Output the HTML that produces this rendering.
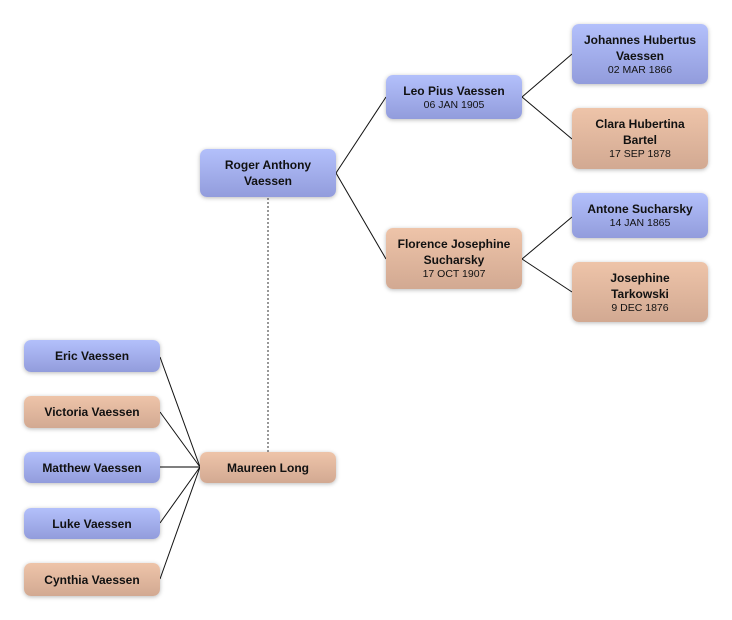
<!DOCTYPE html>
<html>
<head>
<meta charset="utf-8">
<style>
html,body{margin:0;padding:0;background:#fff;}
body{width:732px;height:620px;position:relative;overflow:hidden;font-family:"Liberation Sans","DejaVu Sans",sans-serif;}
.b{position:absolute;border-radius:7px;display:flex;flex-direction:column;justify-content:center;align-items:center;text-align:center;color:#111;box-shadow:0 1px 4px rgba(0,0,0,0.28);box-sizing:border-box;}
.m{background:linear-gradient(#b3c0fb,#929cdc);}
.f{background:linear-gradient(#eec4a9,#d2a992);}
.n{font-weight:bold;font-size:12px;line-height:16px;}
.d{font-size:10.5px;line-height:13px;}
svg{position:absolute;left:0;top:0;}
</style>
</head>
<body>
<svg width="732" height="620">
<g stroke="#111" stroke-width="1" fill="none">
<line x1="336" y1="173" x2="386" y2="97"/>
<line x1="336" y1="173" x2="386" y2="259"/>
<line x1="522" y1="97" x2="572" y2="54"/>
<line x1="522" y1="97" x2="572" y2="139"/>
<line x1="522" y1="259" x2="572" y2="217"/>
<line x1="522" y1="259" x2="572" y2="292"/>
<line x1="160" y1="357" x2="200" y2="467"/>
<line x1="160" y1="412" x2="200" y2="467"/>
<line x1="160" y1="467" x2="200" y2="467" stroke="#555" stroke-width="1.5"/>
<line x1="160" y1="523" x2="200" y2="467"/>
<line x1="160" y1="579" x2="200" y2="467"/>
</g>
<line x1="268" y1="198" x2="268" y2="452" stroke="#777" stroke-width="1.5" stroke-dasharray="2,2"/>
</svg>

<div class="b m" style="left:200px;top:149px;width:136px;height:48px;"><div class="n">Roger Anthony<br>Vaessen</div></div>

<div class="b m" style="left:386px;top:75px;width:136px;height:44px;"><div class="n">Leo Pius Vaessen</div><div class="d">06 JAN 1905</div></div>
<div class="b f" style="left:386px;top:228px;width:136px;height:61px;"><div class="n">Florence Josephine<br>Sucharsky</div><div class="d">17 OCT 1907</div></div>

<div class="b m" style="left:572px;top:24px;width:136px;height:60px;"><div class="n">Johannes Hubertus<br>Vaessen</div><div class="d">02 MAR 1866</div></div>
<div class="b f" style="left:572px;top:108px;width:136px;height:61px;"><div class="n">Clara Hubertina<br>Bartel</div><div class="d">17 SEP 1878</div></div>
<div class="b m" style="left:572px;top:193px;width:136px;height:45px;"><div class="n">Antone Sucharsky</div><div class="d">14 JAN 1865</div></div>
<div class="b f" style="left:572px;top:262px;width:136px;height:60px;"><div class="n">Josephine<br>Tarkowski</div><div class="d">9 DEC 1876</div></div>

<div class="b m" style="left:24px;top:340px;width:136px;height:32px;"><div class="n">Eric Vaessen</div></div>
<div class="b f" style="left:24px;top:396px;width:136px;height:32px;"><div class="n">Victoria Vaessen</div></div>
<div class="b m" style="left:24px;top:452px;width:136px;height:31px;"><div class="n">Matthew Vaessen</div></div>
<div class="b m" style="left:24px;top:508px;width:136px;height:31px;"><div class="n">Luke Vaessen</div></div>
<div class="b f" style="left:24px;top:563px;width:136px;height:33px;"><div class="n">Cynthia Vaessen</div></div>

<div class="b f" style="left:200px;top:452px;width:136px;height:31px;"><div class="n">Maureen Long</div></div>
</body>
</html>
